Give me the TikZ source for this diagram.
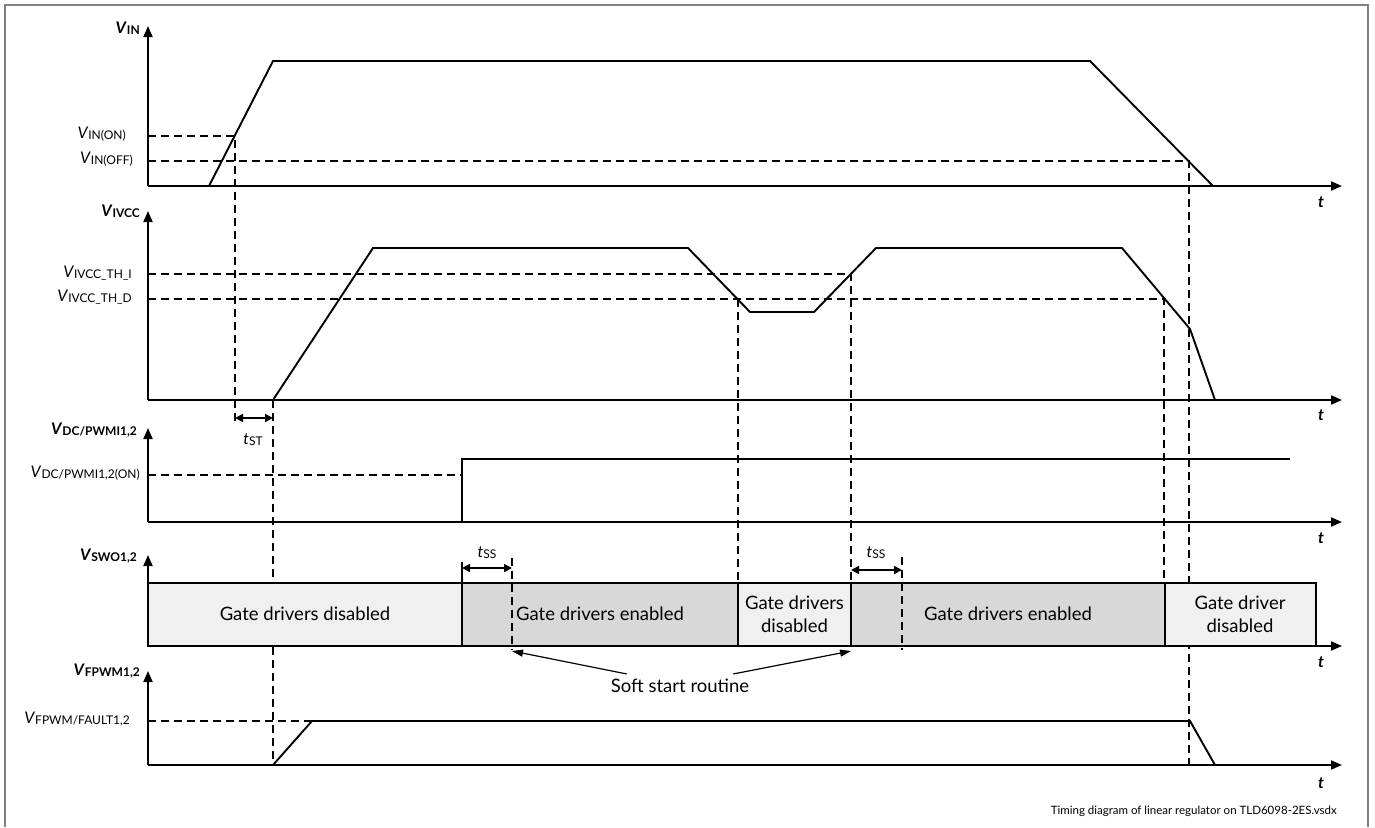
\documentclass[tikz,border=0pt]{standalone}
\usepackage{fontspec}
\setmainfont{Lato}
\usetikzlibrary{arrows.meta}
\newcommand{\sgb}[2]{\textbf{\textit{#1}\raisebox{-0.15ex}{\fontsize{12}{12}\selectfont #2}}}
\newcommand{\sgr}[2]{\textit{#1}\raisebox{-0.15ex}{\fontsize{12}{12}\selectfont #2}}
\definecolor{lightg}{RGB}{240,240,240}
\definecolor{darkg}{RGB}{216,216,216}
\definecolor{framec}{RGB}{128,128,128}
\tikzset{
  axis/.style={line width=1.9pt,-{Triangle[length=11pt,width=9pt]}},
  wave/.style={line width=1.9pt,line join=miter},
  dashln/.style={line width=1.9pt,dash pattern=on 8pt off 5pt},
  dimarr/.style={line width=1.9pt,{Triangle[length=8pt,width=8pt]}-{Triangle[length=8pt,width=8pt]}},
  callout/.style={line width=1.2pt,-{Triangle[length=11pt,width=7pt]}},
  boxc/.style={line width=1.9pt,draw=black},
  lbl/.style={inner sep=0pt,anchor=mid east,font=\fontsize{16}{18}\selectfont},
  tlbl/.style={inner sep=0pt,font=\fontsize{16}{18}\selectfont\bfseries\itshape},
  boxtxt/.style={inner sep=0pt,align=center,font=\fontsize{18.5}{23}\selectfont}
}
\begin{document}
\begin{tikzpicture}[x=1pt,y=-1pt]
\useasboundingbox (0,0) rectangle (1375,827);
% frame
\draw[framec,line width=2pt] (5,827) -- (5,5) -- (1368,5) -- (1368,827);

% ---------- dashed guide lines ----------
\draw[dashln] (148,136) -- (235,136) -- (235,424);
\draw[dashln] (148,161) -- (1189,161) -- (1189,765);
\draw[dashln] (148,274) -- (851,274) -- (851,583);
\draw[dashln] (148,299) -- (1164,299) -- (1164,583);
\draw[dashln] (738,299) -- (738,583);
\draw[dashln] (273,400) -- (273,765);
\draw[dashln] (148,475) -- (462,475);
\draw[dashln] (148,721) -- (312,721);

% ---------- V_IN ----------
\draw[axis] (148,186) -- (148,26);
\draw[axis] (148,186) -- (1342,186);
\node[lbl] (lvin) at (140,31) {\sgb{V}{IN}};
\node[lbl] (lvinon) at (126,136) {\sgr{V}{IN(ON)}};
\node[lbl] (lvinoff) at (133,161) {\sgr{V}{IN(OFF)}};
\node[tlbl] (t1) at (1321,202) {t};
\draw[wave] (209,186) -- (273,61) -- (1090,61) -- (1213,186);

% ---------- V_IVCC ----------
\draw[axis] (148,400) -- (148,211);
\draw[axis] (148,400) -- (1342,400);
\node[lbl] (lvivcc) at (140,214) {\sgb{V}{IVCC}};
\node[lbl] (lthi) at (132,275) {\sgr{V}{IVCC\_TH\_I}};
\node[lbl] (lthd) at (132,299) {\sgr{V}{IVCC\_TH\_D}};
\node[tlbl] (t2) at (1321,415) {t};
\draw[wave] (273,400) -- (373,248) -- (688,248) -- (750,312) -- (814,312) -- (876,248) -- (1122,248) -- (1190,329) -- (1215,400);
\draw[dimarr] (235,418) -- (273,418);
\node[inner sep=0pt,font=\fontsize{16}{18}\selectfont] (tst) at (253,440) {\sgr{t}{ST}};

% ---------- V_DC/PWMI ----------
\draw[axis] (148,522) -- (148,428);
\draw[axis] (148,522) -- (1342,522);
\node[lbl] (lvdc) at (137,432) {\sgb{V}{DC/PWMI1,2}};
\node[lbl] (lvdcon) at (140,475) {\sgr{V}{DC/PWMI1,2(ON)}};
\node[tlbl] (t3) at (1321,538) {t};
\draw[wave] (148,522) -- (462,522) -- (462,459) -- (1290,459);

% ---------- V_SWO ----------
\draw[axis] (148,646) -- (148,555);
\node[lbl] (lvswo) at (137,558) {\sgb{V}{SWO1,2}};
\draw[boxc,fill=lightg] (148,583) rectangle (462,646);
\draw[boxc,fill=darkg] (462,583) rectangle (738,646);
\draw[boxc,fill=lightg] (738,583) rectangle (851,646);
\draw[boxc,fill=darkg] (851,583) rectangle (1165,646);
\draw[boxc,fill=lightg] (1165,583) rectangle (1316,646);
\draw[axis] (148,646) -- (1342,646);
\node[tlbl] (t4) at (1321,662) {t};
\node[boxtxt] (b1) at (305,614) {Gate drivers disabled};
\node[boxtxt] (b2) at (600,614) {Gate drivers enabled};
\node[boxtxt] (b3) at (794.5,614) {Gate drivers\\disabled};
\node[boxtxt] (b4) at (1008,614) {Gate drivers enabled};
\node[boxtxt] (b5) at (1240,614) {Gate driver\\disabled};
\draw[dashln] (512,558) -- (512,650);
\draw[dashln] (902,557) -- (902,650);
\draw[line width=1.9pt] (462,562) -- (462,583);
\draw[dimarr] (462,568) -- (512,568);
\draw[dimarr] (851,570) -- (902,570);
\node[inner sep=0pt,font=\fontsize{16}{18}\selectfont] (tss1) at (487,553) {\sgr{t}{SS}};
\node[inner sep=0pt,font=\fontsize{16}{18}\selectfont] (tss2) at (876,553) {\sgr{t}{SS}};

% soft start callout
\node[inner sep=2pt,font=\fontsize{18.5}{20}\selectfont] (ssr) at (680,686) {Soft start routine};
\coordinate (ssA) at (512,651);
\coordinate (ssB) at (851,651);
\draw[callout] (ssr.north west) ++(18,-3) coordinate (ssl) (ssl) -- (ssA);
\draw[callout] (ssr.north east) ++(-18,-3) coordinate (ssr2) (ssr2) -- (ssB);

% ---------- V_FPWM ----------
\draw[axis] (148,765) -- (148,671);
\draw[axis] (148,765) -- (1342,765);
\node[lbl] (lvfpwm) at (140,673) {\sgb{V}{FPWM1,2}};
\node[lbl] (lvfault) at (130,721) {\sgr{V}{FPWM/FAULT1,2}};
\node[tlbl] (t5) at (1321,783) {t};
\draw[wave] (273,765) -- (312,721) -- (1190,721) -- (1215,765);

% footer
\node[inner sep=0pt,anchor=mid east,font=\fontsize{11.5}{13}\selectfont] (foot) at (1337,812) {Timing diagram of linear regulator on TLD6098-2ES.vsdx};
\end{tikzpicture}
\end{document}
